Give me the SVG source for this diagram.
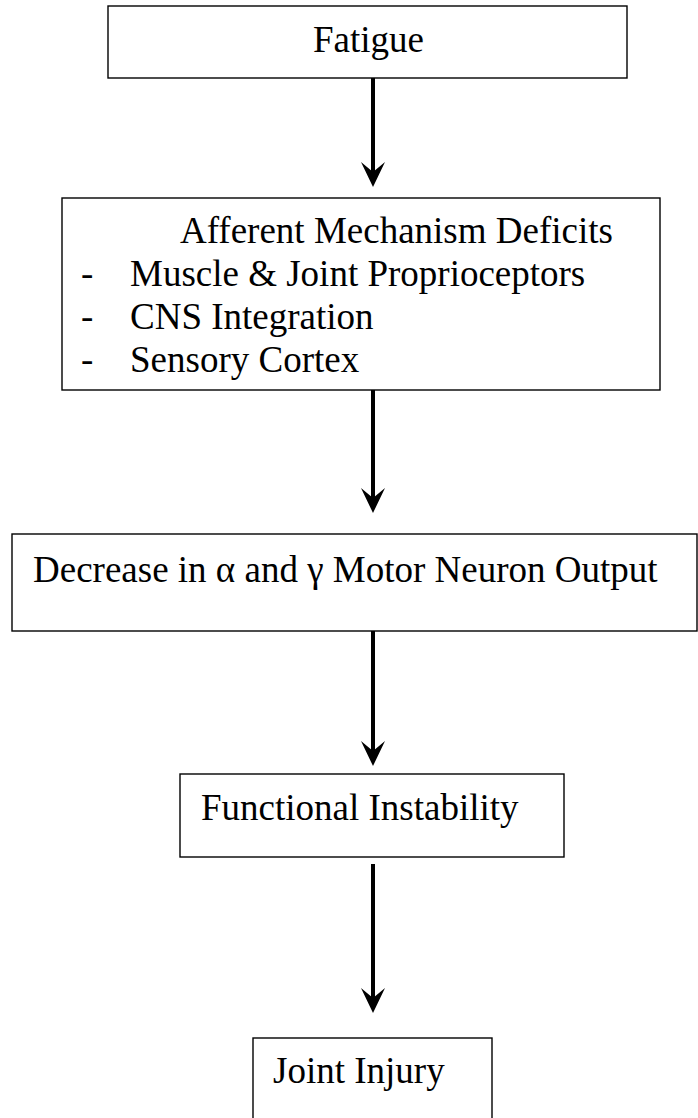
<svg xmlns="http://www.w3.org/2000/svg" width="698" height="1118" viewBox="0 0 698 1118">
<style>
.box{fill:#fff;stroke:#000;stroke-width:1.4}
.t{font-family:"Liberation Serif","Times New Roman",serif;font-size:37px;fill:#000}
.shaft{stroke:#000;stroke-width:4;fill:none}
.head{fill:#000;stroke:none}
</style>
<rect width="698" height="1118" fill="#fff"/>
<g id="fatigue">
<rect class="box" x="108" y="6" width="519" height="72"/>
<text class="t" x="313" y="52">Fatigue</text>
</g>
<g id="afferent">
<rect class="box" x="62" y="198" width="598" height="192"/>
<text class="t" x="180" y="243">Afferent Mechanism Deficits</text>
<text class="t" x="81" y="286">-</text>
<text class="t" x="130" y="286">Muscle &amp; Joint Proprioceptors</text>
<text class="t" x="81" y="329">-</text>
<text class="t" x="130" y="329">CNS Integration</text>
<text class="t" x="81" y="372">-</text>
<text class="t" x="130" y="372">Sensory Cortex</text>
</g>
<g id="decrease">
<rect class="box" x="12" y="534" width="685" height="97"/>
<text class="t" x="33" y="582">Decrease in α and γ Motor Neuron Output</text>
</g>
<g id="instability">
<rect class="box" x="180" y="774" width="384" height="83"/>
<text class="t" x="201" y="820">Functional Instability</text>
</g>
<g id="injury">
<rect class="box" x="253" y="1038" width="239" height="100"/>
<text class="t" x="273" y="1083">Joint Injury</text>
</g>
<g id="connectors">
<line class="shaft" x1="373" y1="78" x2="373" y2="175"/>
<path class="head" d="M361,162 L373,187 L385,162 L373,172 Z"/>
<line class="shaft" x1="373" y1="390" x2="373" y2="501"/>
<path class="head" d="M361,488 L373,513 L385,488 L373,498 Z"/>
<line class="shaft" x1="373" y1="631" x2="373" y2="754"/>
<path class="head" d="M361,741 L373,766 L385,741 L373,751 Z"/>
<line class="shaft" x1="373" y1="864" x2="373" y2="1001"/>
<path class="head" d="M361,988 L373,1013 L385,988 L373,998 Z"/>
</g>
</svg>
